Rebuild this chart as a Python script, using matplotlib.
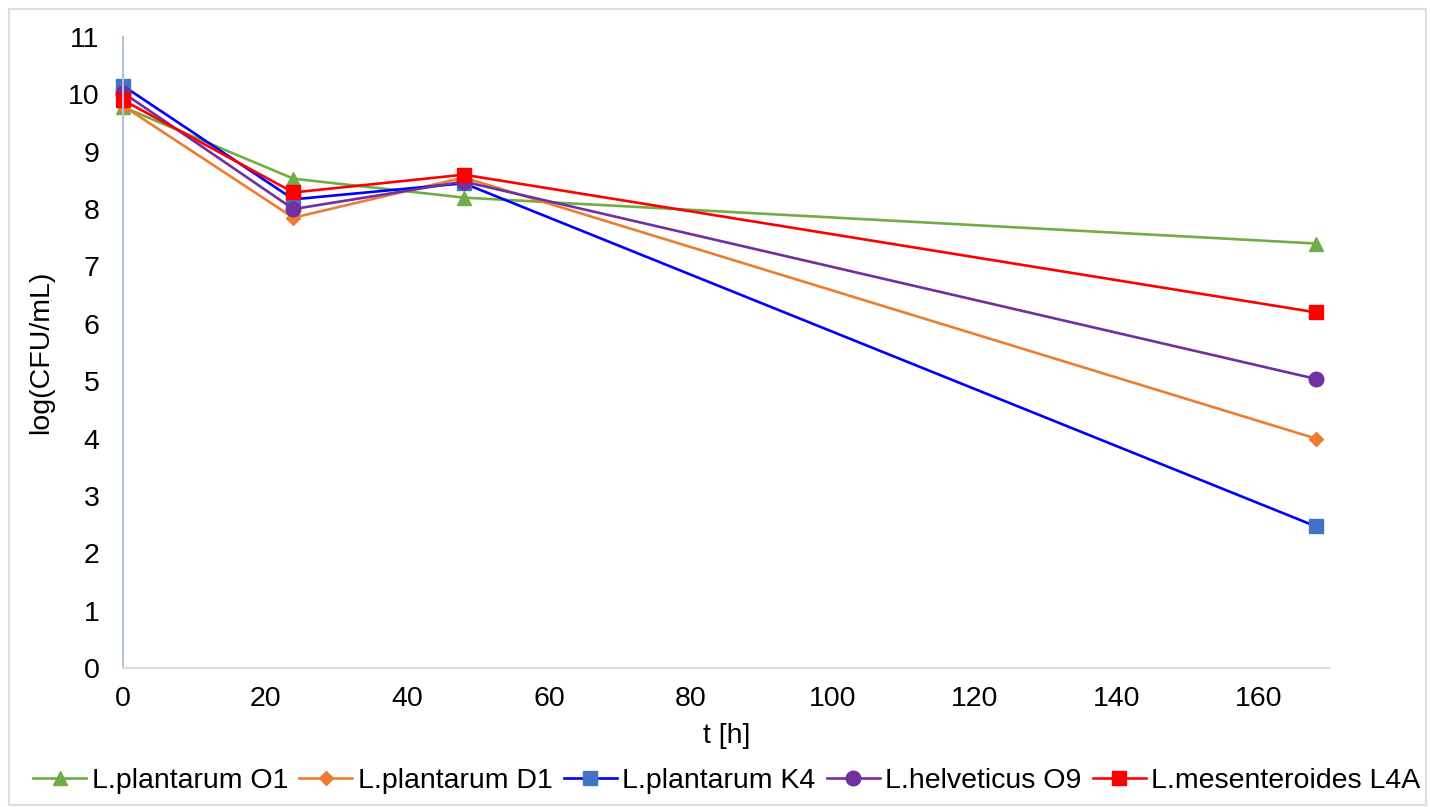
import matplotlib
matplotlib.use("Agg")
import matplotlib.pyplot as plt
from matplotlib.patches import Rectangle

plt.rcParams['font.family'] = ['Liberation Sans', 'DejaVu Sans']

t_hours = [0, 24, 48, 168]
o1 = [9.78, 8.53, 8.20, 7.40]
d1 = [9.80, 7.85, 8.55, 4.00]
k4 = [10.15, 8.17, 8.45, 2.47]
o9 = [10.03, 8.00, 8.48, 5.04]
l4a = [9.90, 8.29, 8.60, 6.20]

series_names = ["L.plantarum O1", "L.plantarum D1", "L.plantarum K4",
                "L.helveticus O9", "L.mesenteroides L4A"]
series_values = [o1, d1, k4, o9, l4a]
line_colors = ["#70AD47", "#ED7D31", "#0000FF", "#7030A0", "#FF0000"]
marker_colors = ["#70AD47", "#ED7D31", "#4472C4", "#7030A0", "#FF0000"]
markers = ["^", "D", "s", "o", "s"]
msizes = [10.5, 7.5, 10.5, 10.5, 10.5]

x_ticks = [0, 20, 40, 60, 80, 100, 120, 140, 160]
y_ticks = list(range(0, 12))

FS = 20.5
fig = plt.figure(figsize=(14.30, 8.07), dpi=100)
ax = fig.add_axes([123/1430, 1-668/807, (1330-123)/1430, (668-37)/807])

for name, vals, lc, mc, mk, ms in zip(series_names, series_values, line_colors,
                                      marker_colors, markers, msizes):
    ax.plot(t_hours, vals, color=lc, lw=1.9, marker=mk, markersize=ms,
            markerfacecolor=mc, markeredgecolor=mc, label=name, clip_on=False)

ax.set_xlim(0, 170)
ax.set_ylim(0, 11)
ax.set_xticks(x_ticks)
ax.set_yticks(y_ticks)
ax.tick_params(axis='x', length=0, labelsize=FS, pad=13)
ax.tick_params(axis='y', length=0, labelsize=FS, pad=17)
for s in ['top', 'right']:
    ax.spines[s].set_visible(False)
ax.spines['left'].set_color('#B4C0D8')
ax.spines['left'].set_linewidth(1.5)
ax.spines['bottom'].set_color('#D9DEE8')
ax.spines['bottom'].set_linewidth(1.5)

ax.set_xlabel("t [h]", fontsize=FS, labelpad=8)
ax.set_ylabel("log(CFU/mL)", fontsize=FS, labelpad=10)

leg = fig.legend(loc='center', bbox_to_anchor=(727/1430, 1-781/807), ncol=5,
                 frameon=False, fontsize=FS, handlelength=1.85,
                 handletextpad=0.2, columnspacing=0.4, borderaxespad=0)

fig.patches.append(Rectangle((9/1430, 2/807), (1426-9)/1430, (796)/807,
                             transform=fig.transFigure, fill=False,
                             edgecolor='#D9DEE8', lw=1.5))

fig.savefig("out.png", dpi=100)
